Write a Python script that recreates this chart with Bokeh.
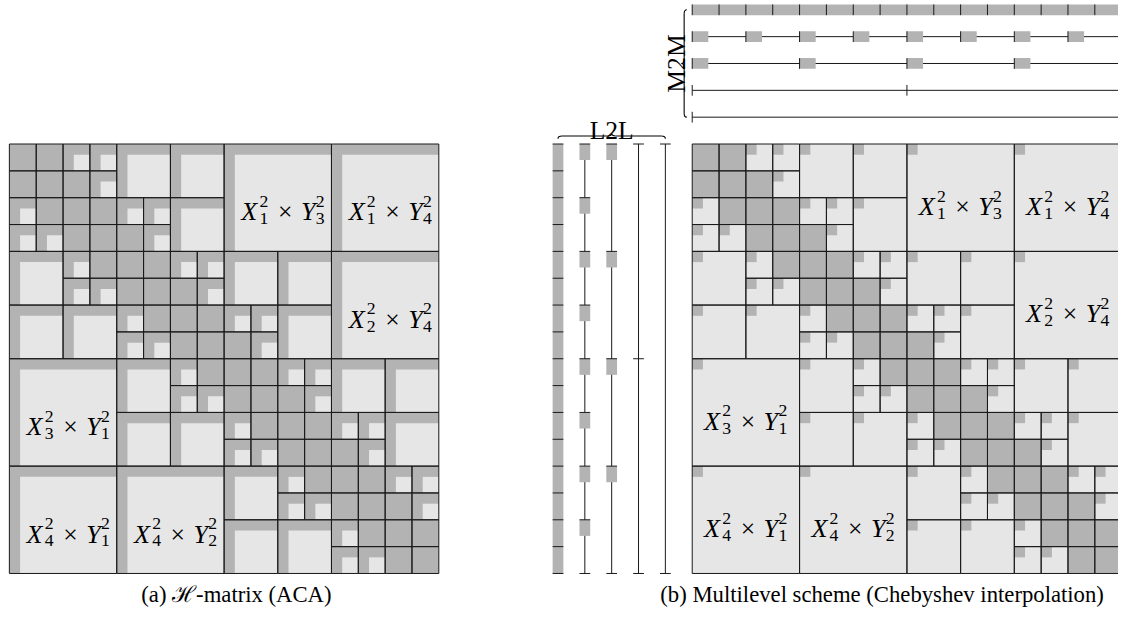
import math
from bokeh.plotting import figure
from bokeh.models import Range1d
from bokeh.core.properties import value
from bokeh.embed import file_html
from bokeh.resources import INLINE

# ---------------- data ----------------
N_CELLS = 16
# dense (near-field) leaf blocks (row, col) on the finest level
DENSE = [(0, 0), (0, 1), (1, 0), (1, 1), (1, 2), (2, 1), (2, 2), (2, 3), (3, 2), (3, 3),
         (3, 4), (4, 3), (4, 4), (4, 5), (5, 4), (5, 5), (5, 6), (6, 5), (6, 6), (6, 7),
         (7, 6), (7, 7), (7, 8), (8, 7), (8, 8), (8, 9), (9, 8), (9, 9), (9, 10), (10, 9),
         (10, 10), (10, 11), (11, 10), (11, 11), (11, 12), (12, 11), (12, 12), (12, 13),
         (13, 12), (13, 13), (13, 14), (14, 13), (14, 14), (14, 15), (15, 14), (15, 15)]
# admissible (far-field) blocks, indexed on their own level
ADM_L2 = [(0, 2), (0, 3), (1, 3), (2, 0), (3, 0), (3, 1)]
ADM_L3 = [(0, 2), (0, 3), (1, 3), (2, 0), (3, 0), (3, 1), (2, 4), (2, 5), (3, 5),
          (4, 2), (5, 2), (5, 3), (4, 6), (4, 7), (5, 7), (6, 4), (7, 4), (7, 5)]
ADM_L4 = [(0, 2), (0, 3), (1, 3), (2, 4), (2, 5), (3, 5), (4, 6), (4, 7), (5, 7),
          (6, 8), (6, 9), (7, 9), (8, 10), (8, 11), (9, 11), (10, 12), (10, 13), (11, 13),
          (12, 14), (12, 15), (13, 15),
          (2, 0), (3, 0), (3, 1), (4, 2), (5, 2), (5, 3), (6, 4), (7, 4), (7, 5),
          (8, 6), (9, 6), (9, 7), (10, 8), (11, 8), (11, 9), (12, 10), (13, 10), (13, 11),
          (14, 12), (15, 12), (15, 13)]
ADM_LEVEL_CLUSTERS = [4, 8, 16]          # number of clusters on levels 2, 3, 4
# cluster tree levels for the M2M / L2L sketches (finest first)
LEVEL_CLUSTERS = [16, 8, 4, 2, 1]
LEVEL_MARK = ["bar", "box", "box", "none", "none"]
# labels of the level-2 admissible blocks
LABEL_BLOCKS = [(0, 2), (0, 3), (1, 3), (2, 0), (3, 0), (3, 1)]
LABEL_X_SUB = ["1", "1", "2", "3", "4", "4"]
LABEL_Y_SUB = ["3", "4", "4", "1", "1", "2"]
LABEL_SUP = "2"
CAPTION_A = "(a) \u210b-matrix (ACA)"
CAPTION_B = "(b) Multilevel scheme (Chebyshev interpolation)"
TEXT_L2L = "L2L"
TEXT_M2M = "M2M"

# ---------------- layout ----------------
K = 0.985                 # overall shrink so that the page fits the window
C_REF = 27.25             # reference px per cell
C = C_REF * K             # drawn px per cell
W, H = 1118, 610
REF_X0, REF_Y0 = 9.0, 145.7
X_LEFT = 0.0
X_RIGHT = 25.44
S = 0.4                   # rank strip / square size (cells)
BOX_LEN = 0.6
GRAY = "#b3b3b3"
LIGHT = "#e6e6e6"
LINE = "#1a1a1a"
SERIF = "Liberation Serif"


def fpx(v):
    return f"{v * K:.1f}px"


x0 = -REF_X0 / C_REF
y0 = -REF_Y0 / C_REF
p = figure(width=W, height=H, x_range=Range1d(x0, x0 + W / C),
           y_range=Range1d(y0 + H / C, y0), x_axis_type=None, y_axis_type=None,
           toolbar_location=None, output_backend="svg", min_border=0,
           outline_line_color=None, background_fill_color="white",
           border_fill_color="white")
p.grid.visible = False

adm = []
for lst, n in zip((ADM_L2, ADM_L3, ADM_L4), ADM_LEVEL_CLUSTERS):
    sz = N_CELLS // n
    adm += [(r * sz, c * sz, sz) for (r, c) in lst]
dense = [(r, c, 1) for (r, c) in DENSE]
allb = adm + dense


def q(blocks, xoff, fill, line=None, inset=0.0, corner=None):
    if corner is None:
        L = [xoff + c + inset for r, c, s in blocks]
        R = [xoff + c + s for r, c, s in blocks]
        T = [r + inset for r, c, s in blocks]
        B = [r + s for r, c, s in blocks]
    else:
        L = [xoff + c for r, c, s in blocks]
        R = [xoff + c + corner for r, c, s in blocks]
        T = [r for r, c, s in blocks]
        B = [r + corner for r, c, s in blocks]
    p.quad(left=L, right=R, top=T, bottom=B, fill_color=fill,
           line_color=line, line_width=1)


# ---- left matrix (ACA) ----
q(allb, X_LEFT, GRAY)
q(adm, X_LEFT, LIGHT, inset=S)
q(allb, X_LEFT, None, line=LINE)

# ---- right matrix (Chebyshev) ----
q(dense, X_RIGHT, GRAY)
q(adm, X_RIGHT, LIGHT)
q(adm, X_RIGHT, GRAY, corner=S)
q(allb, X_RIGHT, None, line=LINE)

# ---- L2L columns and M2M rows ----
for k, (n, mark) in enumerate(zip(LEVEL_CLUSTERS, LEVEL_MARK)):
    step = N_CELLS / n
    starts = [j * step for j in range(n)]
    bounds = [j * step for j in range(n + 1)]
    # L2L (vertical)
    xc = X_RIGHT - 5 + k
    if mark == "bar":
        p.quad(left=[xc - S / 2], right=[xc + S / 2], top=[0], bottom=[N_CELLS],
               fill_color=GRAY, line_color=None)
    else:
        p.segment(x0=[xc], y0=[0], x1=[xc], y1=[N_CELLS], line_color=LINE, line_width=1)
    if mark == "box":
        p.quad(left=[xc - S / 2] * n, right=[xc + S / 2] * n, top=starts,
               bottom=[s + BOX_LEN for s in starts], fill_color=GRAY, line_color=None)
    p.segment(x0=[xc - S / 2] * len(bounds), y0=bounds, x1=[xc + S / 2] * len(bounds),
              y1=bounds, line_color=LINE, line_width=1)
    # M2M (horizontal)
    yc = -5 + k
    if mark == "bar":
        p.quad(left=[X_RIGHT], right=[X_RIGHT + N_CELLS], top=[yc - S / 2],
               bottom=[yc + S / 2], fill_color=GRAY, line_color=None)
    else:
        p.segment(x0=[X_RIGHT], y0=[yc], x1=[X_RIGHT + N_CELLS], y1=[yc],
                  line_color=LINE, line_width=1)
    if mark == "box":
        p.quad(left=[X_RIGHT + s for s in starts], right=[X_RIGHT + s + BOX_LEN for s in starts],
               top=[yc - S / 2] * n, bottom=[yc + S / 2] * n, fill_color=GRAY, line_color=None)
    p.segment(x0=[X_RIGHT + b for b in bounds], y0=[yc - S / 2] * len(bounds),
              x1=[X_RIGHT + b for b in bounds], y1=[yc + S / 2] * len(bounds),
              line_color=LINE, line_width=1)

# ---- braces ----
BR_END, BR_SHAFT, BR_CUSP, BR_R = 0.20, 0.30, 0.40, 0.15


def brace(a0, a1, base, vertical):
    e, sh, cu = base - BR_END, base - BR_SHAFT, base - BR_CUSP
    m = (a0 + a1) / 2
    curves = [((a0, e), (a0 + BR_R, sh), (a0, sh)),
              ((m - BR_R, sh), (m, cu), (m, sh)),
              ((m, cu), (m + BR_R, sh), (m, sh)),
              ((a1 - BR_R, sh), (a1, e), (a1, sh))]
    lines = [((a0 + BR_R, sh), (m - BR_R, sh)), ((m + BR_R, sh), (a1 - BR_R, sh))]
    f = (lambda pt: (pt[1], pt[0])) if vertical else (lambda pt: pt)
    for s0, s1, cc in curves:
        (ax, ay), (bx, by), (cx, cy) = f(s0), f(s1), f(cc)
        p.quadratic(x0=[ax], y0=[ay], x1=[bx], y1=[by], cx=[cx], cy=[cy],
                    line_color="black", line_width=1.1)
    for s0, s1 in lines:
        (ax, ay), (bx, by) = f(s0), f(s1)
        p.segment(x0=[ax], y0=[ay], x1=[bx], y1=[by], line_color="black", line_width=1.1)


brace(X_RIGHT - 5, X_RIGHT - 1, 0.0, vertical=False)   # L2L
brace(-5, -1, X_RIGHT, vertical=True)                  # M2M

p.text(x=[X_RIGHT - 3], y=[-0.5], text=[TEXT_L2L], text_font=value(SERIF),
       text_font_size=fpx(26), text_align="center", text_baseline="alphabetic",
       text_color="black")
p.text(x=[X_RIGHT - 0.57], y=[-3], text=[TEXT_M2M], text_font=value(SERIF),
       text_font_size=fpx(26), text_align="center", text_baseline="alphabetic",
       angle=math.pi / 2, text_color="black")

# ---- block labels ----
big_x, big_y, big_t = [], [], []
sc_x, sc_y, sc_t = [], [], []
tm_x, tm_y = [], []
for (br, bc), xs, ys in zip(LABEL_BLOCKS, LABEL_X_SUB, LABEL_Y_SUB):
    sz = N_CELLS // 4
    for xoff, inset in ((X_LEFT, S), (X_RIGHT, 0.0)):
        cx = xoff + bc * sz + inset + (sz - inset) / 2
        cy = br * sz + inset + (sz - inset) / 2
        base = cy + 9 / C_REF
        sup = cy - 1.5 / C_REF
        sub = cy + 16 / C_REF
        big_x += [cx - 42.5 / C_REF, cx + 18.0 / C_REF]
        big_y += [base, base]
        big_t += ["X", "Y"]
        sc_x += [cx - 24.0 / C_REF, cx - 24.0 / C_REF, cx + 33.0 / C_REF, cx + 33.0 / C_REF]
        sc_y += [sup, sub, sup, sub]
        sc_t += [LABEL_SUP, xs, LABEL_SUP, ys]
        tm_x.append(cx + 2.0 / C_REF)
        tm_y.append(base)

p.text(x=big_x, y=big_y, text=big_t, text_font=value(SERIF), text_font_style="italic",
       text_font_size=fpx(26.5), text_align="left", text_baseline="alphabetic",
       text_color="black")
p.text(x=sc_x, y=sc_y, text=sc_t, text_font=value(SERIF), text_font_size=fpx(18),
       text_align="left", text_baseline="alphabetic", text_color="black")
p.text(x=tm_x, y=tm_y, text=["\u00d7"] * len(tm_x), text_font=value(SERIF),
       text_font_size=fpx(26), text_align="center", text_baseline="alphabetic",
       text_color="black")

# ---- captions ----
CAP_Y = (603 - REF_Y0) / C_REF
p.text(x=[(239.5 - REF_X0) / C_REF, (895 - REF_X0) / C_REF], y=[CAP_Y, CAP_Y],
       text=[CAPTION_A, CAPTION_B], text_font=value(SERIF), text_font_size=fpx(23),
       text_align="center", text_baseline="alphabetic", text_color="black")

open("out.html", "w").write(file_html(p, INLINE))
